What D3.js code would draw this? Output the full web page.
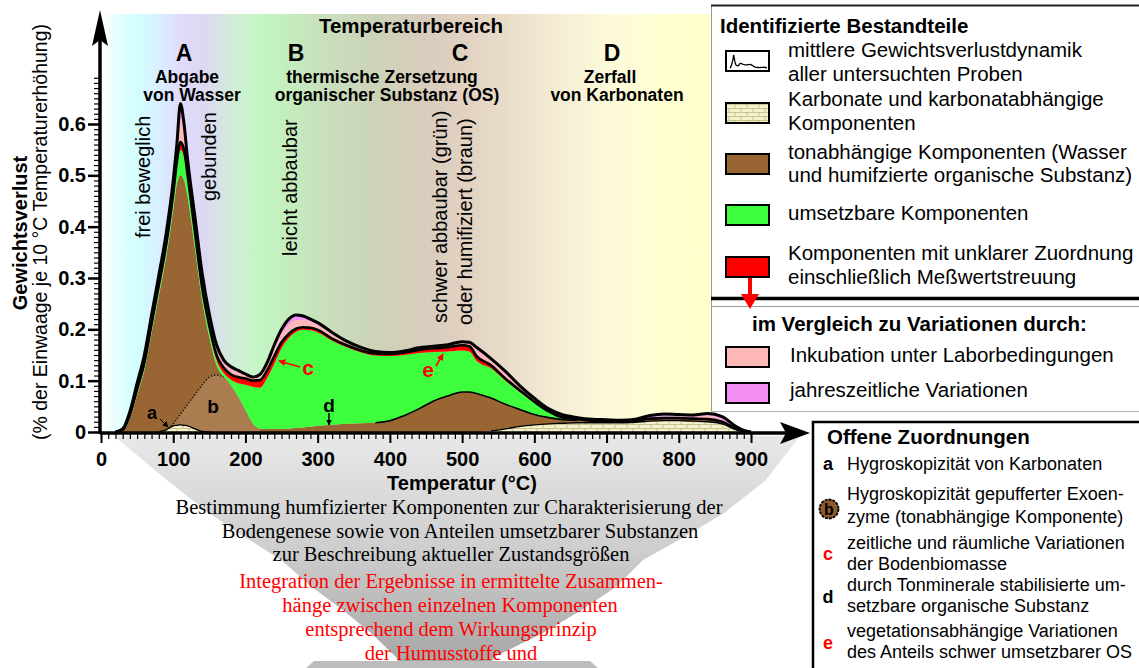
<!DOCTYPE html>
<html>
<head>
<meta charset="utf-8">
<script src="https://cdn.jsdelivr.net/npm/d3@7"></script>
<style>
  html, body { margin: 0; padding: 0; background: #fff; }
  svg { display: block; font-family: "Liberation Sans", Arial, Helvetica, sans-serif; }
</style>
</head>
<body>
<svg id="chart" width="1139" height="668"></svg>
<script>
// ---- data: weight loss per 10 °C (fraction of sample) by component ----
const temps = [20,30,40,50,60,70,80,90,100,105,110,115,120,130,140,150,160,170,180,190,200,210,220,230,240,250,260,270,280,290,300,320,340,360,380,400,420,440,460,480,500,510,520,540,560,580,600,620,640,660,680,700,720,740,760,780,800,820,840,860,880,890,900];

const karbonate = [0,0,0,0,0,0,0,.004,.012,.013,.014,.013,.012,.006,.001,0,0,0,0,0,0,0,0,0,0,0,0,0,0,0,0,0,0,0,0,0,0,0,0,0,0,0,0,.002,.006,.011,.014,.016,.017,.018,.018,.018,.018,.019,.021,.022,.022,.021,.02,.016,.004,.001,0];

const tonabhaengig = [0,.001,.026,.072,.121,.193,.265,.335,.421,.47,.486,.477,.446,.352,.256,.185,.13,.107,.09,.068,.042,.016,.006,.006,.006,.006,.007,.008,.009,.01,.012,.014,.016,.017,.018,.022,.032,.045,.06,.07,.078,.078,.075,.064,.048,.033,.02,.012,.007,.005,.003,.002,.002,.002,.003,.003,.003,.003,.003,.002,.001,0,0];

const umsetzbar = [0,0,.002,.004,.006,.008,.01,.012,.02,.03,.05,.045,.03,.02,.015,.012,.01,.008,.012,.027,.05,.072,.08,.099,.127,.157,.176,.187,.19,.188,.182,.164,.149,.138,.131,.126,.118,.109,.096,.087,.081,.079,.064,.058,.046,.034,.023,.011,.003,.001,0,0,0,0,0,0,0,0,0,0,0,0,0];

const unklar = [0,.003,.006,.008,.008,.01,.011,.012,.012,.013,.015,.015,.012,.012,.01,.01,.01,.01,.01,.012,.012,.012,.015,.015,.015,.012,.008,.006,.005,.005,.005,.004,.004,.004,.004,.004,.005,.006,.007,.008,.01,.01,.009,.006,.004,.003,.002,.001,.001,.001,.001,.001,.001,.001,.002,.002,.002,.002,.002,.002,.001,0,0];

const inkubation = [0,.001,.003,.006,.008,.009,.01,.012,.015,.02,.045,.03,.02,.02,.018,.015,.013,.01,.01,.009,.006,.005,.008,.01,.015,.016,.018,.017,.015,.012,.01,.009,.006,.004,.003,.002,.002,.003,.003,.004,.005,.006,.012,.01,.01,.007,.005,.003,.003,.001,.001,.001,.001,.001,.002,.003,.003,.003,.007,.004,.001,0,0];

const jahreszeit = [0,.001,.003,.005,.007,.008,.009,.01,.01,.014,.03,.02,.01,.01,.01,.008,.007,.005,.005,.004,.003,.002,.003,.005,.007,.009,.011,.01,.007,.005,.004,.003,.002,.002,.001,.001,.001,.001,.001,.001,.002,.002,.005,.003,.004,.002,.002,.002,.002,.002,.002,.002,.001,.002,.004,.005,.004,.004,.004,.006,.003,.002,0];

// upper edge of the hygroscopic exoenzyme hump "b" (absolute values)
const exoenzymHump = [null,null,null,null,null,null,null,.004,.016,.025,.035,.044,.054,.073,.091,.107,.111,.107,.09,.068,.042,.016,.006,null,null,null,null,null,null,null,null,null,null,null,null,null,null,null,null,null,null,null,null,null,null,null,null,null,null,null,null,null,null,null,null,null,null,null,null,null,null,null,null];

const xTickValues = [0,100,200,300,400,500,600,700,800,900];
const yTickValues = [0,0.1,0.2,0.3,0.4,0.5,0.6];

const layerKeys = ["karbonate","tonabhaengig","umsetzbar","unklar","inkubation","jahreszeit"];
const layerColors = {
  karbonate: "url(#karbPattern)",
  tonabhaengig: "#996633",
  umsetzbar: "#3dff3d",
  unklar: "#ff0000",
  inkubation: "#ffb8b8",
  jahreszeit: "#f58ef5"
};

// ---- setup ----
const svg = d3.select("#chart");
const x = d3.scaleLinear().domain([0, 900]).range([101, 751]);
const y = d3.scaleLinear().domain([0, 0.6]).range([432, 124]);
const SANS = '"Liberation Sans", Arial, Helvetica, sans-serif';
const SERIF = '"Liberation Serif", "Times New Roman", serif';

const defs = svg.append("defs");

// background temperature-range gradient
const bg = defs.append("linearGradient").attr("id", "bgGrad")
  .attr("gradientUnits", "userSpaceOnUse").attr("x1", 101).attr("x2", 711).attr("y1", 0).attr("y2", 0);
[[101,"#ffffff"],[112,"#eefefe"],[135,"#d2ffff"],[160,"#d8eeff"],[182,"#e0dafc"],[205,"#dcd8f2"],[232,"#d2ecd8"],[258,"#c4f6c6"],[285,"#c4eebe"],[325,"#c8dfbc"],[375,"#ccd3b8"],[425,"#d8ccbc"],[470,"#e2d2c2"],[520,"#ece2cc"],[570,"#f6f0d6"],[610,"#fdfadb"],[660,"#ffffd2"],[711,"#ffffcc"]]
  .forEach(([px, c]) => bg.append("stop").attr("offset", (px - 101) / 610).attr("stop-color", c));

// funnel gradient
const fg = defs.append("linearGradient").attr("id", "funnelGrad")
  .attr("gradientUnits", "userSpaceOnUse").attr("x1", 0).attr("x2", 0).attr("y1", 436).attr("y2", 668);
fg.append("stop").attr("offset", 0).attr("stop-color", "#e8e8e8");
fg.append("stop").attr("offset", 0.5).attr("stop-color", "#cdcdcd");
fg.append("stop").attr("offset", 1).attr("stop-color", "#a4a4a4");

// carbonate brick pattern
const pat = defs.append("pattern").attr("id", "karbPattern").attr("patternUnits", "userSpaceOnUse")
  .attr("width", 12).attr("height", 8);
pat.append("rect").attr("width", 12).attr("height", 8).attr("fill", "#f4f1cc");
pat.append("path").attr("d", "M0,0.5H12M0,4.5H12M3,0.5V4.5M9,4.5V8").attr("stroke", "#cbc38e").attr("stroke-width", 1).attr("fill", "none");

// arrow markers
function marker(id, color, size) {
  defs.append("marker").attr("id", id).attr("viewBox", "0 0 10 10").attr("refX", 9).attr("refY", 5)
    .attr("markerWidth", size).attr("markerHeight", size).attr("orient", "auto-start-reverse")
    .attr("markerUnits", "userSpaceOnUse")
    .append("path").attr("d", "M0,0L10,5L0,10z").attr("fill", color);
}
marker("arrBlack", "#000", 6);
marker("arrRed", "#ff0000", 7);

// ---- background ----
svg.append("rect").attr("x", 101).attr("y", 14).attr("width", 610).attr("height", 418).attr("fill", "url(#bgGrad)");

// funnel below the x axis
const funnelLeft = [[114,436],[168,481],[209,513],[245,537],[281,560],[312,587],[344,611],[371,633],[396,657],[398,661]];
const funnelRight = [[800,436],[765,481],[724,513],[684,537],[643,560],[616,587],[580,611],[543,633],[494,657],[492,661]];
svg.append("path")
  .attr("d", d3.line().curve(d3.curveLinear)(funnelLeft.concat(funnelRight.slice().reverse())) + "Z")
  .attr("fill", "url(#funnelGrad)");
svg.append("path").attr("d", "M314,661L590,661L598,668L306,668Z").attr("fill", "#bdbdbd");

// ---- stacked components ----
const rows = temps.map((t, i) => ({
  t,
  karbonate: karbonate[i], tonabhaengig: tonabhaengig[i], umsetzbar: umsetzbar[i],
  unklar: unklar[i], inkubation: inkubation[i], jahreszeit: jahreszeit[i]
}));
const series = d3.stack().keys(layerKeys)(rows);

const area = d3.area()
  .x(d => x(d.data.t)).y0(d => y(d[0])).y1(d => y(d[1]))
  .curve(d3.curveMonotoneX);

const plot = svg.append("g");
series.forEach(s => {
  plot.append("path").attr("d", area(s)).attr("fill", layerColors[s.key]).attr("stroke", "none");
});

// hump "b" drawn over the clay-bound component
const humpArea = d3.area()
  .defined((d, i) => exoenzymHump[i] != null)
  .x(d => x(d.t))
  .y0((d, i) => y(series[0][i][1]))
  .y1((d, i) => y(Math.max(series[0][i][1], exoenzymHump[i] || 0)))
  .curve(d3.curveMonotoneX);
plot.append("path").attr("d", humpArea(rows)).attr("fill", "#aa7c50");

const humpLine = d3.line()
  .defined((d, i) => exoenzymHump[i] != null && d.t <= 170)
  .x(d => x(d.t)).y((d, i) => y(exoenzymHump[i]))
  .curve(d3.curveMonotoneX);
plot.append("path").attr("d", humpLine(rows)).attr("fill", "none")
  .attr("stroke", "#111").attr("stroke-width", 1.6).attr("stroke-dasharray", "1.2,2");

// outlines
const lineAt = (level, def) => d3.line()
  .defined(def || (() => true))
  .x(d => x(d.t)).y((d, i) => y(series[level][i][1]))
  .curve(d3.curveMonotoneX);

// carbonate outline (mound "a" and the carbonate band)
plot.append("path")
  .attr("d", lineAt(0, (d, i) => (d.t >= 80 && d.t <= 150) || d.t >= 530)(rows))
  .attr("fill", "none").attr("stroke", "#000").attr("stroke-width", 1.3);
// clay-bound component in the OS range
plot.append("path")
  .attr("d", lineAt(1, d => d.t >= 370 && d.t <= 660)(rows))
  .attr("fill", "none").attr("stroke", "#000").attr("stroke-width", 1.6);
// top of the unclear components
plot.append("path").attr("d", lineAt(3)(rows))
  .attr("fill", "none").attr("stroke", "#000").attr("stroke-width", 2.6).attr("stroke-linejoin", "round");
// mean total weight loss
plot.append("path").attr("d", lineAt(5)(rows))
  .attr("fill", "none").attr("stroke", "#000").attr("stroke-width", 3).attr("stroke-linejoin", "round");

// ---- axes ----
const axisFont = g => g.attr("font-family", SANS).attr("font-size", 20).attr("font-weight", "bold");

const xMinor = svg.append("g").attr("transform", "translate(0,433)")
  .call(d3.axisBottom(x).tickValues(d3.range(0, 901, 10)).tickSize(6).tickFormat(""));
xMinor.select(".domain").remove();
xMinor.selectAll("line").attr("stroke-width", 1.2);

const xMajor = svg.append("g").attr("transform", "translate(0,433)")
  .call(d3.axisBottom(x).tickValues(xTickValues).tickSize(10).tickPadding(9).tickFormat(d3.format("d")))
  .call(axisFont);
xMajor.select(".domain").remove();
xMajor.selectAll("line").attr("stroke-width", 2);
xMajor.selectAll("text").attr("fill", "#000");

const yMinor = svg.append("g").attr("transform", "translate(100,0)")
  .call(d3.axisLeft(y).tickValues(d3.range(0, 70).map(v => v / 100)).tickSize(6).tickFormat(""));
yMinor.select(".domain").remove();
yMinor.selectAll("line").attr("stroke-width", 1.2);

const yMajor = svg.append("g").attr("transform", "translate(100,0)")
  .call(d3.axisLeft(y).tickValues(yTickValues).tickSize(12).tickPadding(2)
    .tickFormat(d => d === 0 ? "0" : d.toFixed(1)))
  .call(axisFont);
yMajor.select(".domain").remove();
yMajor.selectAll("line").attr("stroke-width", 2.5);
yMajor.selectAll("text").attr("fill", "#000");

// axis lines with arrowheads
svg.append("line").attr("x1", 100).attr("y1", 433).attr("x2", 790).attr("y2", 433).attr("stroke", "#000").attr("stroke-width", 3.5);
svg.append("path").attr("d", "M810,433L780,422L786,433L780,444Z").attr("fill", "#000");
svg.append("line").attr("x1", 100).attr("y1", 434).attr("x2", 100).attr("y2", 38).attr("stroke", "#000").attr("stroke-width", 3.5);
svg.append("path").attr("d", "M100,10L92,46L100,40L108,46Z").attr("fill", "#000");

// axis titles
svg.append("text").attr("transform", "translate(27,233) rotate(-90)").attr("text-anchor", "middle")
  .attr("font-size", 20).attr("font-weight", "bold").text("Gewichtsverlust");
svg.append("text").attr("transform", "translate(47,232) rotate(-90)").attr("text-anchor", "middle")
  .attr("font-size", 19.5).text("(% der Einwaage je 10 °C Temperaturerhöhung)");
svg.append("text").attr("x", 462).attr("y", 490).attr("text-anchor", "middle")
  .attr("font-size", 20).attr("font-weight", "bold").text("Temperatur (°C)");

// ---- temperature ranges ----
const ranges = [
  { letter: "A", lx: 184, lines: [["Abgabe", 187], ["von Wasser", 192]] },
  { letter: "B", lx: 296, lines: [] },
  { letter: "C", lx: 460, lines: [["thermische Zersetzung", 382], ["organischer Substanz (OS)", 387]] },
  { letter: "D", lx: 612, lines: [["Zerfall", 610], ["von Karbonaten", 617]] }
];
svg.append("text").attr("x", 411).attr("y", 33).attr("text-anchor", "middle")
  .attr("font-size", 20.5).attr("font-weight", "bold").text("Temperaturbereich");
ranges.forEach(r => {
  svg.append("text").attr("x", r.lx).attr("y", 61).attr("text-anchor", "middle")
    .attr("font-size", 23).attr("font-weight", "bold").text(r.letter);
  r.lines.forEach(([s, cx], i) => {
    svg.append("text").attr("x", cx).attr("y", 83 + i * 18).attr("text-anchor", "middle")
      .attr("font-size", 17.5).attr("font-weight", "bold").text(s);
  });
});

// vertical fraction labels
const fractionLabels = [
  ["frei beweglich", 150, 238],
  ["gebunden", 216, 201],
  ["leicht abbaubar", 297, 256],
  ["schwer abbaubar (grün)", 447, 323],
  ["oder humifiziert (braun)", 472, 325]
];
fractionLabels.forEach(([s, bx, by]) => {
  svg.append("text").attr("transform", `translate(${bx},${by}) rotate(-90)`)
    .attr("font-size", 20).text(s);
});

// annotation letters in the curve
const ann = svg.append("g").attr("font-weight", "bold");
ann.append("text").attr("x", 152).attr("y", 419).attr("text-anchor", "middle").attr("font-size", 18).text("a");
ann.append("line").attr("x1", 160).attr("y1", 419).attr("x2", 168).attr("y2", 427)
  .attr("stroke", "#000").attr("stroke-width", 1).attr("marker-end", "url(#arrBlack)");
ann.append("text").attr("x", 213).attr("y", 413).attr("text-anchor", "middle").attr("font-size", 19).text("b");
ann.append("text").attr("x", 308).attr("y", 375).attr("text-anchor", "middle").attr("font-size", 21).attr("fill", "#ff0000").text("c");
ann.append("line").attr("x1", 300).attr("y1", 367).attr("x2", 279).attr("y2", 361)
  .attr("stroke", "#ff0000").attr("stroke-width", 1.5).attr("marker-end", "url(#arrRed)");
ann.append("text").attr("x", 329).attr("y", 412).attr("text-anchor", "middle").attr("font-size", 19).text("d");
ann.append("line").attr("x1", 329).attr("y1", 413).attr("x2", 329).attr("y2", 425)
  .attr("stroke", "#000").attr("stroke-width", 1.5).attr("marker-end", "url(#arrBlack)");
ann.append("text").attr("x", 428).attr("y", 377).attr("text-anchor", "middle").attr("font-size", 21).attr("fill", "#ff0000").text("e");
ann.append("line").attr("x1", 436).attr("y1", 366).attr("x2", 443).attr("y2", 354)
  .attr("stroke", "#ff0000").attr("stroke-width", 1.5).attr("marker-end", "url(#arrRed)");

// ---- funnel text ----
const funnelBlack = [
  ["Bestimmung humfizierter Komponenten zur Charakterisierung der", 449, 514],
  ["Bodengenese sowie von Anteilen umsetzbarer Substanzen", 460, 538],
  ["zur Beschreibung aktueller Zustandsgrößen", 451, 561]
];
const funnelRed = [
  ["Integration der Ergebnisse in ermittelte Zusammen-", 451, 588],
  ["hänge zwischen einzelnen Komponenten", 450, 612],
  ["entsprechend dem Wirkungsprinzip", 451, 636],
  ["der Humusstoffe und", 451, 660]
];
funnelBlack.concat(funnelRed).forEach(([s, cx, by], i) => {
  svg.append("text").attr("x", cx).attr("y", by).attr("text-anchor", "middle")
    .style("font-family", SERIF).attr("font-size", 20.5)
    .attr("fill", i < funnelBlack.length ? "#000" : "#ff0000").text(s);
});

// ---- legend: identified components ----
const lg = svg.append("g");
lg.append("rect").attr("x", 711).attr("y", 5).attr("width", 428).attr("height", 406).attr("fill", "#fff");
lg.append("line").attr("x1", 711.5).attr("y1", 5).attr("x2", 711.5).attr("y2", 411).attr("stroke", "#9a9a9a").attr("stroke-width", 1);
lg.append("line").attr("x1", 711).attr("y1", 5.5).attr("x2", 1139).attr("y2", 5.5).attr("stroke", "#222").attr("stroke-width", 2);
lg.append("line").attr("x1", 711).attr("y1", 298.5).attr("x2", 1139).attr("y2", 298.5).attr("stroke", "#000").attr("stroke-width", 3.5);
lg.append("line").attr("x1", 711).attr("y1", 306.5).attr("x2", 1139).attr("y2", 306.5).attr("stroke", "#9a9a9a").attr("stroke-width", 1);
lg.append("line").attr("x1", 711).attr("y1", 411.5).attr("x2", 1139).attr("y2", 411.5).attr("stroke", "#b0b0b0").attr("stroke-width", 1);

lg.append("text").attr("x", 720).attr("y", 33).attr("font-size", 20.5).attr("font-weight", "bold").text("Identifizierte Bestandteile");

const legendItems = [
  { fill: "#fff", sy: 51, lines: [["mittlere Gewichtsverlustdynamik", 57], ["aller untersuchten Proben", 81]] },
  { fill: "url(#karbPattern)", sy: 103, lines: [["Karbonate und karbonatabhängige", 106], ["Komponenten", 130]] },
  { fill: "#996633", sy: 154, lines: [["tonabhängige Komponenten (Wasser", 159], ["und humifzierte organische Substanz)", 182]] },
  { fill: "#3dff3d", sy: 205, lines: [["umsetzbare Komponenten", 220]] },
  { fill: "#ff0000", sy: 257, lines: [["Komponenten mit unklarer Zuordnung", 260], ["einschließlich Meßwertstreuung", 284]] }
];
legendItems.forEach(it => {
  lg.append("rect").attr("x", 726).attr("y", it.sy).attr("width", 43).attr("height", 20)
    .attr("fill", it.fill).attr("stroke", "#000").attr("stroke-width", 2);
  it.lines.forEach(([s, by]) => lg.append("text").attr("x", 788).attr("y", by).attr("font-size", 20.5).text(s));
});
// miniature of the mean curve inside the first swatch
const mx = d3.scaleLinear().domain([0, 900]).range([729, 767]);
const my = d3.scaleLinear().domain([0, 0.64]).range([68, 55]);
lg.append("path")
  .attr("d", d3.line().x((d, i) => mx(d.t)).y((d, i) => my(series[5][i][1]))(rows))
  .attr("fill", "none").attr("stroke", "#000").attr("stroke-width", 1.3);

// red arrow from unclear components to the comparison block
lg.append("line").attr("x1", 750).attr("y1", 278).attr("x2", 750).attr("y2", 297).attr("stroke", "#ff0000").attr("stroke-width", 4);
lg.append("path").attr("d", "M741,294L759,294L750,309Z").attr("fill", "#ff0000");

lg.append("text").attr("x", 752).attr("y", 331).attr("font-size", 20.5).attr("font-weight", "bold").text("im Vergleich zu Variationen durch:");
const compareItems = [
  { fill: "#ffb8b8", sy: 347, text: "Inkubation unter Laborbedingungen", by: 362 },
  { fill: "#f58ef5", sy: 383, text: "jahreszeitliche Variationen", by: 397 }
];
compareItems.forEach(it => {
  lg.append("rect").attr("x", 726).attr("y", it.sy).attr("width", 43).attr("height", 20)
    .attr("fill", it.fill).attr("stroke", "#000").attr("stroke-width", 2);
  lg.append("text").attr("x", 790).attr("y", it.by).attr("font-size", 20.5).text(it.text);
});

// ---- legend: open assignments ----
const og = svg.append("g");
og.append("rect").attr("x", 812).attr("y", 421).attr("width", 327).attr("height", 247).attr("fill", "#fff");
og.append("path").attr("d", "M813,668V422H1139").attr("fill", "none").attr("stroke", "#000").attr("stroke-width", 2.5);
og.append("text").attr("x", 827).attr("y", 444).attr("font-size", 20.5).attr("font-weight", "bold").text("Offene Zuordnungen");

const openItems = [
  { label: "a", color: "#000", ly: 470, lines: [["Hygroskopizität von Karbonaten", 470]] },
  { label: "b", circle: true, ly: 509, lines: [["Hygroskopizität gepufferter Exoen-", 500], ["zyme (tonabhängige Komponente)", 523]] },
  { label: "c", color: "#ff0000", ly: 560, lines: [["zeitliche und räumliche Variationen", 549], ["der Bodenbiomasse", 570]] },
  { label: "d", color: "#000", ly: 603, lines: [["durch Tonminerale stabilisierte um-", 591], ["setzbare organische Substanz", 612]] },
  { label: "e", color: "#ff0000", ly: 649, lines: [["vegetationsabhängige Variationen", 637], ["des Anteils schwer umsetzbarer OS", 658]] }
];
openItems.forEach(it => {
  if (it.circle) {
    og.append("circle").attr("cx", 829).attr("cy", it.ly).attr("r", 9.5)
      .attr("fill", "#8c5a2c").attr("stroke", "#000").attr("stroke-width", 1.8).attr("stroke-dasharray", "3,1");
    og.append("text").attr("x", 829).attr("y", it.ly + 6).attr("text-anchor", "middle")
      .attr("font-size", 16).attr("font-weight", "bold").text(it.label);
  } else {
    og.append("text").attr("x", 828).attr("y", it.ly).attr("text-anchor", "middle")
      .attr("font-size", 18).attr("font-weight", "bold").attr("fill", it.color).text(it.label);
  }
  it.lines.forEach(([s, by]) => og.append("text").attr("x", 847).attr("y", by).attr("font-size", 18).text(s));
});
</script>
</body>
</html>
